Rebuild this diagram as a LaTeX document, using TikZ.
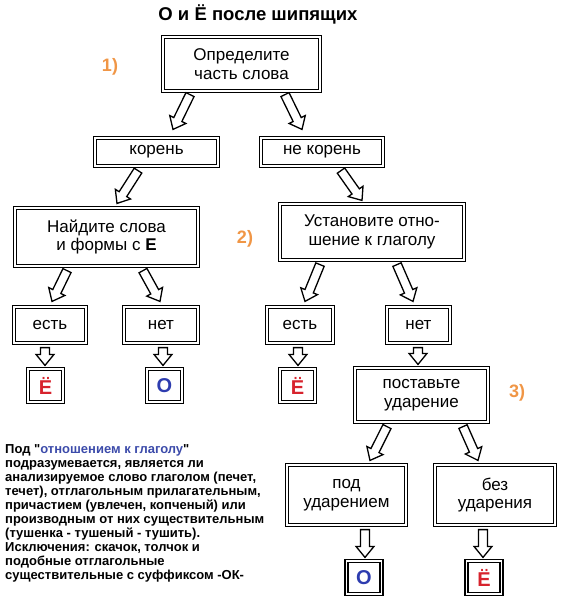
\documentclass[tikz,border=0pt]{standalone}
\usepackage{fontspec}
\setmainfont{Liberation Sans}
\newfontfamily\notefont{Liberation Sans}
\usepackage{tikz}
\usetikzlibrary{positioning,calc}
\usepackage{xcolor}
\definecolor{LetterRed}{RGB}{215,35,45}
\definecolor{LetterBlue}{RGB}{45,60,175}
\definecolor{StepOrange}{RGB}{240,150,70}
\definecolor{NoteBlue}{RGB}{60,75,170}

% hollow block arrow between two points
\newcommand{\harrow}[2]{%
  \path #1 coordinate (ha) #2 coordinate (hb);
  \coordinate (hn) at ($(hb)!11pt!(ha)$);
  \draw[hollow] ($(ha)!4.5pt!90:(hb)$) -- ($(hn)!4.5pt!-90:(ha)$)
    -- ($(hn)!9pt!-90:(ha)$) -- (hb) -- ($(hn)!9pt!90:(ha)$)
    -- ($(hn)!4.5pt!90:(ha)$) -- ($(ha)!4.5pt!-90:(hb)$) -- cycle;}

\begin{document}
\begin{tikzpicture}[
x=1pt,
y=-1pt,
box/.style={
rectangle,
draw=black,
double=white,
double distance=1.8pt,
line width=1.2pt,
inner sep=0pt,
align=center,
font=\fontsize{17}{18.5}\selectfont
},
letter/.style={
box,
minimum width=35pt,
minimum height=33pt,
font=\fontsize{20}{22}\selectfont\bfseries
},
num/.style={
font=\fontsize{18}{20}\selectfont\bfseries,
text=StepOrange
},
hollow/.style={
draw=black,
fill=white,
line width=1.3pt,
line join=miter
}
]
\useasboundingbox (0,0) rectangle (563,600);

\node[font=\fontsize{18.5}{20}\selectfont\bfseries] (title) at (258,14) {О и Ё после шипящих};

\node[box,minimum width=157pt,minimum height=54pt] (def) at (241.5,64) {Определите\\часть слова};
\node[num] (n1) at (110,67) {1)};

\node[box,minimum width=123pt,minimum height=28pt] (root) at (156.5,152) {корень};
\node[box,minimum width=122pt,minimum height=28pt] (notroot) at (322,152) {не корень};

\node[box,minimum width=183pt,minimum height=58pt] (findE) at (106.5,237) {Найдите слова\\и формы с \textbf{Е}};
\node[num] (n2) at (245,239) {2)};
\node[box,minimum width=184pt,minimum height=56pt] (verb) at (372,232) {Установите отно-\\шение к глаголу};

\node[box,minimum width=72pt,minimum height=36pt] (yes1) at (50,325) {есть};
\node[box,minimum width=74pt,minimum height=36pt] (no1) at (161,325) {нет};
\node[box,minimum width=66pt,minimum height=36pt] (yes2) at (300,325) {есть};
\node[box,minimum width=63pt,minimum height=36pt] (no2) at (418.5,325) {нет};

\node[letter,text=LetterRed] (e1) at (45.5,385.5) {Ё};
\node[letter,text=LetterBlue] (o1) at (164.5,385.5) {О};
\node[letter,text=LetterRed] (e2) at (297.5,385.5) {Ё};

\node[box,minimum width=133pt,minimum height=54pt] (stress) at (421.5,395) {поставьте\\ударение};
\node[num] (n3) at (517,393) {3)};

\node[box,minimum width=119pt,minimum height=60pt] (under) at (346.5,495) {под\\ударением};
\node[box,minimum width=120pt,minimum height=60pt] (without) at (495,495) {без\\ударения};

\node[letter,text=LetterBlue] (o2) at (364,577.5) {О};
\node[letter,text=LetterRed] (e3) at (484,577.5) {Ё};

\node[anchor=north west,align=left,inner sep=0pt,font=\notefont\fontsize{13}{14}\selectfont\bfseries] (note) at (5,444)
{Под "\textcolor{NoteBlue}{отношением к глаголу}"\\
подразумевается, является ли\\
анализируемое слово глаголом (печет,\\
течет), отглагольным прилагательным,\\
причастием (увлечен, копченый) или\\
производным от них существительным\\
(тушенка - тушеный - тушить).\\
Исключения: скачок, толчок и\\
подобные отглагольные\\
существительные с суффиксом -ОК-};

\harrow{($(def.south)+(-51.5,3)$)}{($(root.north)+(16.5,-8)$)}
\harrow{($(def.south)+(43.5,3)$)}{($(notroot.north)+(-20,-8)$)}
\harrow{($(root.south)+(-18.5,4)$)}{($(findE.north)+(10.5,-4)$)}
\harrow{($(notroot.south)+(19,4)$)}{($(verb.north)+(-10,-3)$)}
\harrow{($(findE.south)+(-39.5,4)$)}{($(yes1.north)+(2,-5)$)}
\harrow{($(findE.south)+(36.5,4)$)}{($(no1.north)+(-1,-5)$)}
\harrow{($(verb.south)+(-52,4)$)}{($(yes2.north)+(5,-5)$)}
\harrow{($(verb.south)+(25,4)$)}{($(no2.north)+(-5.5,-5)$)}
\harrow{($(yes1.south)+(-5,4)$)}{($(e1.north)+(-0.5,-3)$)}
\harrow{($(no1.south)+(2,4)$)}{($(o1.north)+(-1.5,-3)$)}
\harrow{($(yes2.south)+(-2,4)$)}{($(e2.north)+(0.5,-3)$)}
\harrow{($(no2.south)+(-0.5,4)$)}{($(stress.north)+(-3.5,-3)$)}
\harrow{($(stress.south)+(-34.5,4)$)}{($(under.north)+(23.5,-4)$)}
\harrow{($(stress.south)+(41.5,4)$)}{($(without.north)+(-17,-4)$)}
\harrow{($(under.south)+(18.5,4)$)}{($(o2.north)+(1,-3)$)}
\harrow{($(without.south)+(-12,4)$)}{($(e3.north)+(-1,-3)$)}

\end{tikzpicture}
\end{document}
